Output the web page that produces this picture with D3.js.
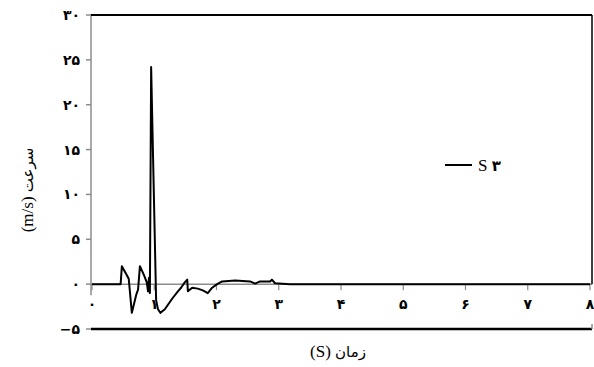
<!DOCTYPE html>
<html>
<head>
<meta charset="utf-8">
<script src="https://cdn.jsdelivr.net/npm/d3@7"></script>
<style>
  body { margin: 0; background: #fff; }
  text { fill: #000; }
  .fa { font-family: "DejaVu Sans", sans-serif; font-weight: bold; }
  .lat { font-family: "Liberation Serif", "Times New Roman", serif; }
</style>
</head>
<body>
<div id="chart"></div>
<script>
// time (s) and speed (m/s)
const times = [0, 0.46, 0.48, 0.56, 0.59, 0.64, 0.71, 0.74, 0.77, 0.835, 0.88, 0.9, 0.915, 0.93, 0.95,
  1.03, 1.06, 1.10, 1.17, 1.29, 1.38, 1.43, 1.49, 1.53, 1.54, 1.61, 1.70, 1.78, 1.86, 1.93, 2.01,
  2.09, 2.30, 2.54, 2.62, 2.70, 2.86, 2.89, 2.94, 3.18, 5, 8];
const speeds = [0, 0, 2.0, 1.0, 0.6, -3.2, -1.2, -0.6, 2.0, 1.0, 0.2, -0.8, 0.7, -1.0, 24.2,
  -1.8, -2.8, -3.2, -2.8, -1.6, -0.8, -0.4, 0.2, 0.5, -0.8, -0.4, -0.5, -0.7, -1.0, -0.4, 0,
  0.3, 0.4, 0.3, 0.05, 0.3, 0.3, 0.5, 0.1, 0, 0, 0];

const xTicks = [0, 1, 2, 3, 4, 5, 6, 7, 8];
const yTicks = [-5, 0, 5, 10, 15, 20, 25, 30];
const seriesName = ["S", "۳"];
const xTitle = ["زمان", "(S)"];
const yTitle = ["سرعت", "(m/s)"];

const fa = n => String(n).replace(/\d/g, d => "۰۱۲۳۴۵۶۷۸۹"[d]).replace("-", "−");

const width = 594, height = 367;
const x = d3.scaleLinear().domain([0, 8]).range([92, 590]);
const y = d3.scaleLinear().domain([-5, 30]).range([329, 15]);
const left = 91, right = 592;

const svg = d3.select("#chart").append("svg")
  .attr("width", width).attr("height", height);

// gray axes
svg.append("line")
  .attr("x1", left).attr("x2", left)
  .attr("y1", y(30)).attr("y2", y(0) + 11)
  .attr("stroke", "#8c8c8c").attr("stroke-width", 1.5);
svg.append("line")
  .attr("x1", left).attr("x2", right)
  .attr("y1", y(0)).attr("y2", y(0))
  .attr("stroke", "#8c8c8c").attr("stroke-width", 1.5);

// y ticks
svg.selectAll(".yt").data(yTicks).enter().append("line")
  .attr("x1", left - 5).attr("x2", left)
  .attr("y1", d => y(d)).attr("y2", d => y(d))
  .attr("stroke", "#8c8c8c").attr("stroke-width", 1.5);
svg.selectAll(".yl").data(yTicks).enter().append("text")
  .attr("class", "fa")
  .attr("x", 80).attr("y", d => y(d) + 5)
  .attr("text-anchor", "end")
  .style("font-size", "14px")
  .text(d => fa(d));

// x ticks
svg.selectAll(".xt").data(xTicks).enter().append("line")
  .attr("x1", d => x(d)).attr("x2", d => x(d))
  .attr("y1", y(0)).attr("y2", y(0) + 6)
  .attr("stroke", "#8c8c8c").attr("stroke-width", 1.2);
svg.selectAll(".xl").data(xTicks).enter().append("text")
  .attr("class", "fa")
  .attr("x", d => x(d)).attr("y", 309)
  .attr("text-anchor", "middle")
  .style("font-size", "14px")
  .text(d => fa(d));

// black frame: top, right, bottom (-5)
svg.append("line")
  .attr("x1", left).attr("x2", right).attr("y1", y(30)).attr("y2", y(30))
  .attr("stroke", "#000").attr("stroke-width", 2);
svg.append("line")
  .attr("x1", right).attr("x2", right).attr("y1", y(30)).attr("y2", y(0))
  .attr("stroke", "#000").attr("stroke-width", 1.5);
svg.append("line")
  .attr("x1", left).attr("x2", right).attr("y1", y(-5)).attr("y2", y(-5))
  .attr("stroke", "#000").attr("stroke-width", 2.5);
svg.append("line")
  .attr("x1", right).attr("x2", right).attr("y1", y(-5) - 5).attr("y2", y(-5))
  .attr("stroke", "#8c8c8c").attr("stroke-width", 1.5);

// series
const data = times.map((t, i) => ({ t, v: speeds[i] }));
svg.append("path")
  .datum(data)
  .attr("fill", "none")
  .attr("stroke", "#000")
  .attr("stroke-width", 2)
  .attr("stroke-linejoin", "round")
  .attr("d", d3.line().x(d => x(d.t)).y(d => y(d.v)));

// legend
svg.append("line")
  .attr("x1", 445).attr("x2", 472).attr("y1", 165).attr("y2", 165)
  .attr("stroke", "#000").attr("stroke-width", 2);
const leg = svg.append("text").attr("x", 478).attr("y", 171).style("font-size", "17px");
leg.append("tspan").attr("class", "lat").text(seriesName[0] + " ");
leg.append("tspan").attr("class", "fa").style("font-size", "15px").text(seriesName[1]);

// axis titles: Latin part on the left, Persian word on the right
const xt = svg.append("text")
  .attr("x", 338).attr("y", 357)
  .attr("text-anchor", "middle")
  .style("font-size", "15px");
xt.append("tspan").attr("class", "lat").style("font-size", "17px").text(xTitle[1] + " ");
xt.append("tspan").attr("class", "fa").style("font-weight", "normal").text(xTitle[0]);

const yt = svg.append("text")
  .attr("transform", "translate(33,190) rotate(-90)")
  .attr("text-anchor", "middle")
  .style("font-size", "15px");
yt.append("tspan").attr("class", "lat").style("font-size", "17px").text(yTitle[1] + " ");
yt.append("tspan").attr("class", "fa").style("font-weight", "normal").text(yTitle[0]);
</script>
</body>
</html>
